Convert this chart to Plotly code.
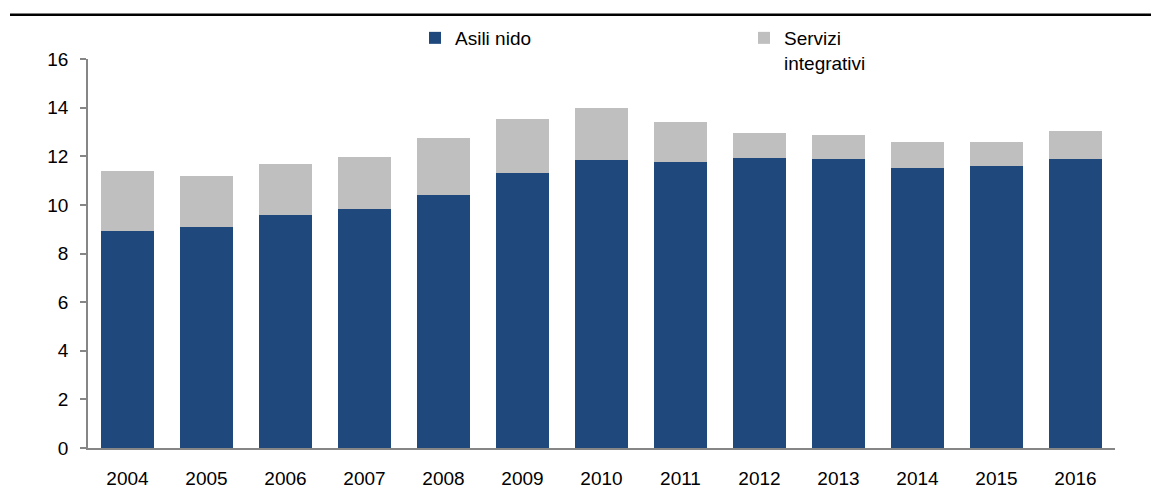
import plotly.graph_objects as go

years = ["2004", "2005", "2006", "2007", "2008", "2009", "2010",
         "2011", "2012", "2013", "2014", "2015", "2016"]
asili_nido = [8.94, 9.07, 9.60, 9.81, 10.42, 11.30, 11.83, 11.75, 11.91, 11.90, 11.53, 11.61, 11.90]
totale = [11.39, 11.17, 11.68, 11.98, 12.74, 13.55, 14.00, 13.40, 12.95, 12.88, 12.57, 12.57, 13.02]
servizi_integrativi = [round(t - a, 2) for t, a in zip(totale, asili_nido)]

y_ticks = [0, 2, 4, 6, 8, 10, 12, 14, 16]

FONT = "Liberation Sans, Arial, sans-serif"
BLUE = "#1F497D"
GRAY = "#BFBFBF"
AXIS = "#868686"

fig = go.Figure()
fig.add_trace(go.Bar(x=years, y=asili_nido, name="Asili nido",
                     marker=dict(color=BLUE, line=dict(width=0))))
fig.add_trace(go.Bar(x=years, y=servizi_integrativi, name="Servizi<br>integrativi",
                     marker=dict(color=GRAY, line=dict(width=0))))

fig.update_layout(
    barmode="stack",
    bargap=0.335,
    width=1151, height=490,
    margin=dict(l=88, r=36, t=59, b=42, autoexpand=False),
    paper_bgcolor="white", plot_bgcolor="white",
    font=dict(family=FONT, size=19, color="#000000"),
    showlegend=True,
    legend=dict(
        orientation="h",
        xref="container", yref="container",
        x=415 / 1151, y=1 - 19 / 490,
        xanchor="left", yanchor="top",
        valign="top",
        entrywidth=284,
        traceorder="normal",
        font=dict(family=FONT, size=19, color="#000000"),
        itemclick=False, itemdoubleclick=False,
        bgcolor="rgba(0,0,0,0)",
    ),
    xaxis=dict(
        showline=True, linecolor=AXIS, linewidth=1.5,
        ticks="", showgrid=False, zeroline=False,
        tickfont=dict(family=FONT, size=19),
        ticklabelstandoff=12,
    ),
    yaxis=dict(
        range=[0, 16], tickvals=y_ticks,
        showline=True, linecolor=AXIS, linewidth=1.5,
        ticks="outside", ticklen=6, tickcolor=AXIS, tickwidth=1.5,
        showgrid=False, zeroline=False,
        tickfont=dict(family=FONT, size=19),
        ticklabelstandoff=8,
    ),
    shapes=[dict(type="line", xref="paper", yref="paper",
                 x0=(10 - 88) / 1027, x1=(1151 - 88) / 1027,
                 y0=(448 - 14.7) / 389, y1=(448 - 14.7) / 389,
                 line=dict(color="black", width=2.5))],
)

fig.write_html("out.html",
               config={"displayModeBar": False},
               post_script="document.body.style.margin='0';document.body.style.padding='0';")
